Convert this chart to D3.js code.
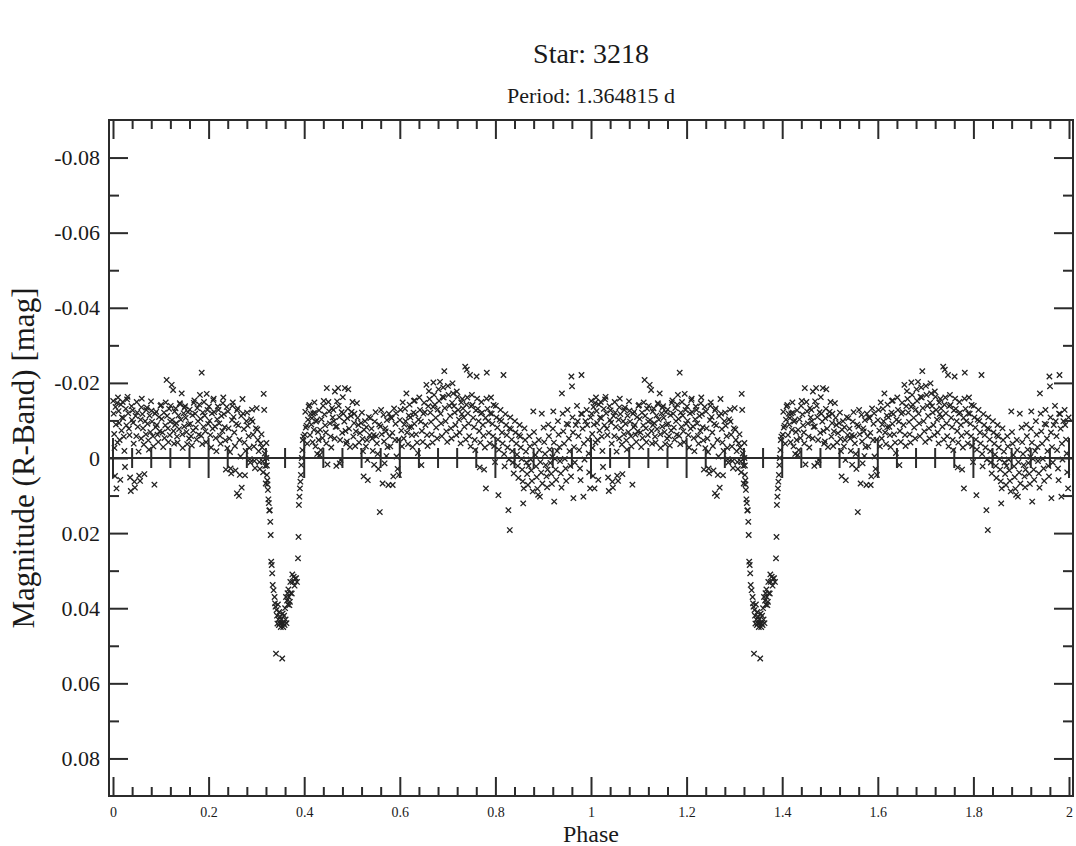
<!DOCTYPE html>
<html>
<head>
<meta charset="utf-8">
<script src="https://cdn.jsdelivr.net/npm/d3@7"></script>
<style>
  html, body { margin: 0; padding: 0; background: #fff; }
</style>
</head>
<body>
<svg id="chart" width="1076" height="846"></svg>
<script>
// phase-folded light curve, one cycle; it is drawn at phase and phase + 1
const outside = [
  [.0005,-.0152],[.0015,-.0118],[.0025,-.0064],[.0032,-.0027],[.0041,.0048],[.0052,-.0136],[.0061,-.0089],[.0073,.0081],[.0085,-.0147],[.0094,-.0041],
  [.0104,-.0161],[.0117,-.0125],[.0128,-.0093],[.0139,-.0048],[.0152,.0058],[.0166,-.0142],[.0178,-.0073],[.0189,-.0108],
  [.0203,-.0149],[.0214,-.0106],[.0226,-.0057],[.0238,-.0019],[.0251,.0024],[.0267,-.0131],[.0281,-.0087],[.0294,-.0156],
  [.0306,-.0163],[.0318,-.0119],[.0333,-.0078],[.0345,-.0061],[.0357,.0052],[.0372,.0088],[.0386,-.0138],[.0398,-.0101],
  [.0409,-.0127],[.0421,-.0094],[.0433,-.0038],[.0447,.0063],[.0459,.0079],[.0472,-.0112],[.0488,-.0058],[.0496,-.0149],
  [.0508,-.0121],[.0519,-.0083],[.0536,-.0017],[.0548,.0047],[.0566,.0061],[.0577,-.0102],[.0589,-.0052],[.0595,-.0135],
  [.0603,-.0158],[.0616,-.0117],[.0628,-.0079],[.0645,-.0036],[.0657,.0043],[.0674,-.0098],[.0688,-.0063],[.0697,-.0128],
  [.0709,-.0134],[.0722,-.0091],[.0738,-.0047],[.0751,-.0022],[.0766,-.0113],[.0782,-.0069],[.0795,-.0151],
  [.0806,-.0126],[.0819,-.0097],[.0834,-.0058],[.0846,-.0031],[.0867,.0071],[.0878,-.0118],[.0893,-.0082],
  [.0904,-.0123],[.0917,-.0088],[.0931,-.0062],[.0947,-.0043],[.0962,-.0109],[.0978,-.0071],[.0992,-.0139],
  [.1007,-.0141],[.1019,-.0104],[.1036,-.0068],[.1051,-.0029],[.1066,-.0121],[.1078,-.0053],[.1094,-.0087],
  [.1103,-.0148],[.1121,-.0208],[.1132,-.0112],[.1148,-.0079],[.1159,-.0042],[.1174,-.0131],[.1189,-.0061],[.1196,-.0097],
  [.1207,-.0139],[.1228,-.0195],[.1236,-.0101],[.1257,-.0181],[.1265,-.0072],[.1279,-.0038],[.1291,-.0124],[.1298,-.0088],
  [.1309,-.0132],[.1322,-.0093],[.1338,-.0057],[.1351,-.0041],[.1368,-.0113],[.1383,-.0077],[.1397,-.0146],
  [.1406,-.0143],[.1419,-.0102],[.1437,-.0172],[.1449,-.0063],[.1458,-.0027],[.1476,-.0119],[.1489,-.0084],[.1495,-.0134],
  [.1508,-.0138],[.1521,-.0107],[.1537,-.0069],[.1552,-.0037],[.1566,-.0122],[.1581,-.0089],[.1593,-.0052],
  [.1604,-.0129],[.1618,-.0091],[.1632,-.0058],[.1649,-.0033],[.1663,-.0114],[.1678,-.0073],[.1691,-.0147],
  [.1702,-.0153],[.1719,-.0118],[.1733,-.0081],[.1748,-.0049],[.1764,-.0133],[.1779,-.0098],[.1792,-.0062],
  [.1806,-.0142],[.1819,-.0168],[.1831,-.0104],[.1846,-.0059],[.1856,-.0227],[.1867,-.0037],[.1879,-.0121],[.1893,-.0083],
  [.1904,-.0149],[.1918,-.0113],[.1933,-.0071],[.1947,-.0042],[.1961,-.0171],[.1976,-.0128],[.1991,-.0091],
  [.2008,-.0137],[.2021,-.0099],[.2036,-.0061],[.2052,-.0028],[.2068,-.0119],[.2083,-.0078],[.2097,-.0154],
  [.2106,-.0158],[.2118,-.0122],[.2134,-.0084],[.2149,-.0053],[.2163,-.0018],[.2179,-.0103],[.2193,-.0137],
  [.2207,-.0128],[.2221,-.0092],[.2238,-.0059],[.2251,-.0038],[.2269,-.0112],[.2286,-.0072],[.2298,-.0146],
  [.2308,-.0161],[.2321,-.0117],[.2337,-.0082],[.2349,-.0047],[.2362,.0031],[.2379,-.0136],[.2392,-.0026],
  [.2406,-.0124],[.2419,-.0079],[.2436,-.0052],[.2448,-.0016],[.2461,.0028],[.2473,.0041],[.2489,-.0101],[.2497,-.0139],
  [.2507,-.0148],[.2522,-.0109],[.2538,-.0068],[.2551,-.0032],[.2563,.0033],[.2579,-.0091],[.2594,-.0127],
  [.2592,.0094],[.2608,-.0132],[.2621,-.0087],[.2634,.0101],[.2646,-.0048],[.2653,.0045],[.2667,-.0004],[.2681,-.0112],[.2693,.0079],
  [.2709,-.0157],[.2721,-.0118],[.2738,-.0077],[.2749,-.0041],[.2762,.0046],[.2774,-.0019],[.2791,-.0098],
  [.2806,-.0121],[.2819,-.0086],[.2836,-.0058],[.2852,-.0027],[.2861,.0003],[.2873,.0012],[.2889,-.0103],
  [.2907,-.0129],[.2918,-.0097],[.2932,-.0062],[.2947,-.0031],[.2959,.0008],[.2971,.0027],[.2988,-.0079],
  [.3006,-.0133],[.3019,-.0076],[.3031,-.0048],[.3049,-.0018],[.3062,.0011],[.3073,.0029],[.3091,-.0039],
  [.3107,-.0063],[.3119,-.0028],[.3132,.0009],[.3141,.0038],[.3152,-.0171],[.3163,-.0128],[.3174,-.0012],[.3186,.0021],[.3194,.0068],
  [.3962,-.0021],[.3971,-.0048],[.3983,-.0057],
  [.4012,-.0062],[.4024,-.0123],[.4033,-.0081],[.4051,-.0086],[.4063,-.0038],[.4079,-.0102],[.4092,-.0137],
  [.4108,-.0141],[.4121,-.0061],[.4134,-.0118],[.4149,-.0089],[.4162,-.0106],[.4175,-.0042],[.4191,-.0119],
  [.4202,-.0075],[.4214,-.0148],[.4223,-.0121],[.4236,-.0031],[.4248,-.0097],[.4263,-.0101],[.4272,-.0011],[.4289,-.0069],
  [.4301,-.0048],[.4312,-.0127],[.4324,-.0008],[.4333,-.0075],[.4346,-.0021],[.4361,-.0103],[.4383,-.0053],[.4396,-.0139],
  [.4409,-.0152],[.4422,-.0116],[.4437,-.0087],[.4451,-.0068],[.4462,-.0039],[.4473,-.0186],[.4488,.0017],
  [.4507,-.0149],[.4521,-.0124],[.4538,-.0092],[.4552,-.0057],[.4566,-.0028],[.4581,-.0133],[.4597,-.0108],
  [.4611,-.0128],[.4623,-.0098],[.4635,-.0052],[.4643,-.0177],[.4657,-.0083],[.4672,.0021],[.4688,-.0151],[.4683,-.0084],
  [.4709,-.0186],[.4722,-.0139],[.4734,-.0109],[.4743,.0014],[.4752,-.0048],[.4761,.0005],[.4783,-.0122],[.4796,-.0067],
  [.4808,-.0162],[.4821,-.0118],[.4838,-.0097],[.4852,-.0186],[.4863,-.0072],[.4877,-.0038],[.4893,-.0044],
  [.4902,-.0106],[.4914,-.0131],[.4922,-.0183],[.4939,-.0078],[.4958,-.0029],[.4976,-.0112],[.4991,-.0123],
  [.5011,-.0149],[.5028,-.0057],[.5043,-.0093],[.5051,-.0118],[.5066,-.0032],[.5082,-.0071],
  [.5103,-.0146],[.5118,-.0107],[.5133,-.0088],[.5149,-.0041],[.5167,-.0066],[.5188,-.0093],
  [.5208,-.0121],[.5219,-.0051],[.5231,-.0018],[.5242,.0049],[.5253,-.0075],[.5272,-.0098],[.5291,-.0031],
  [.5302,-.0082],[.5313,-.0048],[.5324,.0005],[.5331,.0059],[.5352,-.0109],[.5371,-.0061],[.5383,-.0106],
  [.5408,-.0078],[.5422,-.0052],[.5436,-.0019],[.5451,-.0061],[.5462,.0018],[.5478,-.0097],[.5493,-.0122],
  [.5506,-.0058],[.5521,-.0039],[.5538,-.0011],[.5552,.0029],[.5569,-.0089],[.5581,.0144],[.5594,-.0084],
  [.5609,-.0128],[.5622,-.0063],[.5641,.0068],[.5659,-.0115],[.5671,-.0044],[.5683,.0014],[.5697,-.0079],
  [.5708,-.0071],[.5719,-.0005],[.5731,-.0101],[.5743,-.0029],[.5762,.0072],[.5773,-.0118],[.5789,-.0058],
  [.5802,-.0031],[.5813,-.0108],[.5831,-.0106],[.5843,-.0067],[.5852,.0072],[.5864,.0049],[.5881,-.0132],
  [.5902,-.0048],[.5911,-.0091],[.5923,-.0119],[.5932,-.0004],[.5953,.0029],[.5971,-.0048],[.5982,.0045],
  [.6003,-.0101],[.6014,-.0128],[.6032,-.0073],[.6043,-.0031],[.6061,-.0148],[.6082,-.0052],[.6094,-.0089],
  [.6108,-.0131],[.6121,-.0098],[.6138,-.0172],[.6152,-.0068],[.6171,-.0037],[.6189,-.0113],[.6197,-.0082],
  [.6206,-.0142],[.6222,-.0108],[.6241,-.0083],[.6253,-.0061],[.6268,-.0029],[.6287,-.0121],[.6296,-.0152],
  [.6303,-.0091],[.6311,-.0153],[.6324,-.0117],[.6341,-.0063],[.6362,-.0041],[.6378,-.0013],[.6392,-.0102],
  [.6407,-.0161],[.6423,-.0128],[.6439,-.0097],[.6451,.0019],[.6463,-.0072],[.6481,-.0043],[.6494,-.0118],
  [.6508,-.0147],[.6522,-.0122],[.6538,-.0088],[.6556,-.0195],[.6568,-.0061],[.6582,-.0032],[.6597,-.0138],
  [.6609,-.0178],[.6621,-.0157],[.6638,-.0121],[.6652,-.0096],[.6667,-.0063],[.6684,-.0041],[.6698,-.0136],
  [.6702,-.0201],[.6718,-.0168],[.6733,-.0142],[.6751,-.0107],[.6762,-.0081],[.6781,-.0052],[.6792,-.0129],
  [.6809,-.0183],[.6822,-.0152],[.6841,-.0203],[.6853,-.0118],[.6864,-.0092],[.6879,-.0058],[.6893,-.0163],
  [.6907,-.0188],[.6918,-.0161],[.6931,-.0231],[.6942,-.0133],[.6959,-.0098],[.6973,-.0071],[.6991,-.0043],
  [.7006,-.0192],[.7019,-.0168],[.7038,-.0139],[.7052,-.0112],[.7068,-.0079],[.7081,-.0052],[.7094,-.0147],
  [.7102,-.0199],[.7117,-.0172],[.7133,-.0138],[.7149,-.0121],[.7163,-.0088],[.7181,-.0061],[.7192,-.0177],
  [.7207,-.0163],[.7221,-.0128],[.7238,-.0102],[.7252,-.0068],[.7271,-.0039],[.7284,-.0148],[.7298,-.0117],
  [.7308,-.0157],[.7322,-.0132],[.7339,-.0108],[.7351,-.0083],[.7368,-.0243],[.7381,-.0049],[.7394,-.0142],
  [.7401,-.0235],[.7413,-.0161],[.7424,-.0119],[.7439,-.0092],[.7452,-.0058],[.7468,-.0221],[.7481,-.0031],[.7493,-.0138],
  [.7508,-.0168],[.7521,-.0141],[.7536,-.0107],[.7553,-.0082],[.7567,-.0048],[.7579,-.0021],[.7592,-.0127],
  [.7606,-.0217],[.7617,-.0158],[.7632,-.0131],[.7648,-.0098],[.7661,-.0072],[.7672,.0025],[.7684,-.0041],[.7697,-.0118],
  [.7708,-.0149],[.7721,-.0121],[.7739,-.0088],[.7752,-.0059],[.7763,.0031],[.7781,-.0028],[.7793,-.0107],
  [.7802,.0081],[.7813,-.0158],[.7821,-.0227],[.7834,-.0131],[.7849,-.0098],[.7861,-.0067],[.7883,-.0039],[.7892,-.0119],
  [.7908,-.0161],[.7922,-.0118],[.7938,-.0091],[.7951,-.0058],[.7963,-.0141],[.7974,-.0032],[.7991,.0011],
  [.8008,-.0139],[.8021,-.0108],[.8039,-.0081],[.8052,-.0049],[.8062,.0099],[.8073,-.0022],[.8091,-.0102],
  [.8107,-.0128],[.8122,-.0098],[.8138,-.0068],[.8151,-.0039],[.8169,-.0221],[.8181,-.0011],[.8193,.0022],
  [.8209,-.0117],[.8223,-.0088],[.8238,-.0061],[.8253,-.0028],[.8271,.0139],[.8282,.0004],[.8294,-.0079],
  [.8301,.0192],[.8312,-.0108],[.8324,-.0077],[.8341,-.0049],[.8353,-.0018],[.8364,.0012],[.8382,.0041],
  [.8408,-.0098],[.8421,-.0068],[.8437,-.0038],[.8452,-.0009],[.8468,.0021],[.8481,.0053],[.8493,-.0061],
  [.8507,-.0088],[.8519,-.0057],[.8532,-.0028],[.8548,.0003],[.8561,.0031],[.8573,.0062],[.8592,.0081],
  [.8582,.0121],[.8608,-.0079],[.8622,-.0048],[.8638,-.0017],[.8651,.0012],[.8663,.0043],[.8681,.0072],[.8694,.0021],
  [.8709,-.0058],[.8721,-.0031],[.8738,.0004],[.8752,.0033],[.8763,.0061],[.8781,.0089],[.8792,-.0124],
  [.8808,-.0069],[.8821,-.0038],[.8837,-.0008],[.8852,.0022],[.8864,.0051],[.8879,.0082],[.8893,.0098],
  [.8907,-.0048],[.8919,-.0021],[.8931,.0103],[.8942,.0011],[.8959,.0039],[.8971,-.0118],[.8983,.0068],
  [.9008,-.0081],[.9021,-.0042],[.9038,-.0011],[.9052,.0019],[.9068,.0049],[.9081,.0078],[.9093,.0031],
  [.9107,-.0089],[.9119,-.0058],[.9137,-.0022],[.9151,.0013],[.9168,.0042],[.9182,.0069],[.9193,-.0003],
  [.9202,-.0078],[.9211,-.0124],[.9223,-.0041],[.9231,.0116],[.9244,.0002],[.9261,.0031],[.9272,.0058],[.9291,-.0019],
  [.9308,-.0098],[.9322,-.0062],[.9338,-.0029],[.9351,.0008],[.9369,.0041],[.9382,.0079],[.9391,-.0172],
  [.9407,-.0118],[.9421,-.0071],[.9437,-.0038],[.9451,.0002],[.9468,.0028],[.9481,.0061],[.9492,-.0091],
  [.9508,-.0128],[.9521,-.0089],[.9538,-.0052],[.9551,-.0018],[.9569,.0021],[.9582,.0049],[.9591,-.0217],
  [.9602,-.0191],[.9613,-.0108],[.9624,-.0068],[.9631,.0107],[.9644,-.0029],[.9662,.0012],[.9681,-.0088],
  [.9708,-.0139],[.9721,-.0098],[.9738,-.0058],[.9751,-.0021],[.9769,.0028],[.9782,.0059],[.9793,-.0118],
  [.9802,-.0221],[.9813,-.0117],[.9824,-.0078],[.9841,.0103],[.9852,-.0038],[.9863,.0004],[.9882,-.0098],
  [.9907,-.0128],[.9921,-.0088],[.9938,-.0049],[.9951,-.0012],[.9963,.0038],[.9981,.0081],[.9992,-.0108]
];

// primary eclipse
const eclipse = [
  [.321,-.004],[.321,.000],[.322,.002],[.322,.0045],[.323,.006],[.323,.007],[.324,.0085],[.325,.011],
  [.326,.012],[.327,.014],[.328,.0139],[.329,.017],[.330,.0205],[.331,.0276],[.332,.0285],[.333,.0307],
  [.334,.0338],[.336,.0352],[.338,.037],[.339,.0387],[.340,.0396],[.341,.0521],[.342,.0405],[.343,.042],
  [.344,.0441],[.345,.039],[.346,.043],[.347,.0445],[.348,.041],[.349,.044],[.350,.0423],[.351,.045],
  [.352,.043],[.353,.044],[.354,.0534],[.355,.0414],[.356,.045],[.357,.044],[.358,.042],[.359,.0445],
  [.360,.040],[.361,.043],[.362,.037],[.363,.044],[.364,.038],[.365,.036],[.366,.039],[.367,.035],
  [.368,.037],[.369,.0392],[.370,.0383],[.371,.033],[.372,.036],[.374,.0361],[.375,.031],[.376,.033],
  [.378,.0316],[.380,.034],[.381,.0321],[.383,.032],[.385,.0330],[.387,.0267],[.388,.021],[.389,.0125],
  [.390,.0103],[.391,.0081],[.392,.0063],[.393,.0045],[.394,.0019],[.395,.000]
];

const cycles = [0, 1];
const xMajor = d3.range(0, 11).map(i => i * 0.2);
const xMinor = d3.range(0, 51).filter(i => i % 5 !== 0).map(i => i * 0.04);
const yMajor = [-0.08, -0.06, -0.04, -0.02, 0, 0.02, 0.04, 0.06, 0.08];
const yMinor = [-0.07, -0.05, -0.03, -0.01, 0.01, 0.03, 0.05, 0.07];

const title = 'Star: 3218';
const subtitle = 'Period: 1.364815 d';
const xTitle = 'Phase';
const yTitle = 'Magnitude (R-Band) [mag]';

let svg = d3.select('#chart');
let frame = {left: 109, right: 1073, top: 120, bottom: 796};
let ink = '#2b2b2b';
let serif = '"Liberation Serif", "Times New Roman", serif';

let x = d3.scaleLinear().domain([0, 2]).range([113, 1069]);
let y = d3.scaleLinear().domain([-0.09, 0.09]).range([frame.top, frame.bottom]);

let fmt = v => String(+v.toFixed(2));

// points
let marks = [];
cycles.forEach(c => {
  outside.concat(eclipse).forEach(p => marks.push([p[0] + c, p[1]]));
});

svg.append('g')
  .selectAll('path')
  .data(marks)
  .join('path')
  .attr('transform', d => `translate(${x(d[0]).toFixed(1)},${y(d[1]).toFixed(1)})`)
  .attr('d', 'M-2.7,-2.7L2.7,2.7M-2.7,2.7L2.7,-2.7')
  .attr('stroke', '#222')
  .attr('stroke-width', 1.3)
  .attr('fill', 'none');

// zero line with ticks on both sides
let zero = svg.append('g').attr('stroke', ink).attr('stroke-width', 2);
zero.append('line')
  .attr('x1', frame.left).attr('x2', frame.right)
  .attr('y1', y(0)).attr('y2', y(0));
zero.selectAll('line.maj')
  .data(xMajor)
  .join('line')
  .attr('class', 'maj')
  .attr('x1', d => x(d)).attr('x2', d => x(d))
  .attr('y1', y(0) - 20).attr('y2', y(0) + 20);
zero.selectAll('line.min')
  .data(xMinor)
  .join('line')
  .attr('class', 'min')
  .attr('x1', d => x(d)).attr('x2', d => x(d))
  .attr('y1', y(0) - 10).attr('y2', y(0) + 10);

// axes
let drawAxis = (axis, tx, ty) => {
  let g = svg.append('g')
    .attr('transform', `translate(${tx},${ty})`)
    .call(axis);
  g.select('.domain').remove();
  g.selectAll('.tick line').attr('stroke', ink).attr('stroke-width', 2);
  return g;
};

drawAxis(d3.axisBottom(x).tickValues(xMajor).tickSize(-19).tickFormat(fmt), 0, frame.bottom)
  .selectAll('.tick text')
  .attr('y', 21)
  .attr('dy', 0)
  .attr('font-size', 14)
  .attr('font-family', serif)
  .attr('fill', '#1a1a1a');
drawAxis(d3.axisBottom(x).tickValues(xMinor).tickSize(-9).tickFormat(''), 0, frame.bottom);
drawAxis(d3.axisTop(x).tickValues(xMajor).tickSize(-19).tickFormat(''), 0, frame.top);
drawAxis(d3.axisTop(x).tickValues(xMinor).tickSize(-9).tickFormat(''), 0, frame.top);

drawAxis(d3.axisLeft(y).tickValues(yMajor).tickSize(-19).tickFormat(fmt), frame.left, 0)
  .selectAll('.tick text')
  .attr('x', -9)
  .attr('font-size', 22)
  .attr('font-family', serif)
  .attr('fill', '#1a1a1a');
drawAxis(d3.axisLeft(y).tickValues(yMinor).tickSize(-10).tickFormat(''), frame.left, 0);
drawAxis(d3.axisRight(y).tickValues(yMajor).tickSize(-19).tickFormat(''), frame.right, 0);
drawAxis(d3.axisRight(y).tickValues(yMinor).tickSize(-10).tickFormat(''), frame.right, 0);

svg.append('rect')
  .attr('x', frame.left).attr('y', frame.top)
  .attr('width', frame.right - frame.left)
  .attr('height', frame.bottom - frame.top)
  .attr('fill', 'none')
  .attr('stroke', ink)
  .attr('stroke-width', 2);

// titles
let cx = (frame.left + frame.right) / 2;
let label = (tx, ty, size, str, rot) => svg.append('text')
  .attr('transform', `translate(${tx},${ty})` + (rot ? ' rotate(-90)' : ''))
  .attr('text-anchor', 'middle')
  .attr('font-family', serif)
  .attr('font-size', size)
  .attr('fill', '#1a1a1a')
  .text(str);

label(cx, 63, 28, title);
label(cx, 103, 22, subtitle);
label(cx, 842, 24, xTitle);
label(34, y(0), 31, yTitle, true);
</script>
</body>
</html>
